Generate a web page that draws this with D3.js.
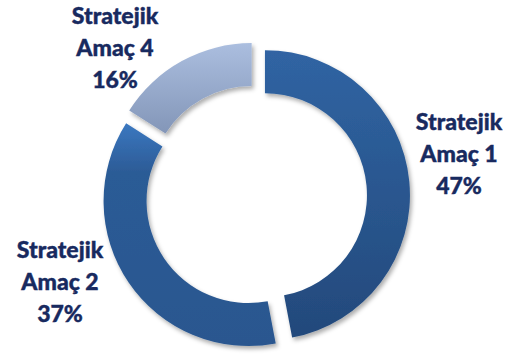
<!DOCTYPE html>
<html>
<head>
<meta charset="utf-8">
<script src="https://cdn.jsdelivr.net/npm/d3@7"></script>
<style>
  html, body { margin: 0; padding: 0; background: #fff; }
  svg { display: block; }
</style>
</head>
<body>
<svg id="chart" width="510" height="356"></svg>
<script>
// Share of each strategic goal
const categories = ["Stratejik Amaç 1", "Stratejik Amaç 2", "Stratejik Amaç 4"];
const values = [47, 37, 16];
const percentLabels = ["47%", "37%", "16%"];

// Vertical gradient stops per slice (top -> bottom)
const gradients = [
  [["0%", "#3064a3"], ["100%", "#23497b"]],
  [["0%", "#3b78c0"], ["22%", "#2c5b96"], ["100%", "#2a578f"]],
  [["0%", "#abbedf"], ["100%", "#8396b8"]]
];

// Label anchor (x, y of first line) per slice
const labelAnchors = [[459, 130], [60, 258], [115, 24]];

const width = 510, height = 356;
const cx = 256, cy = 196;
const outerR = 145, innerR = 102, explode = 9;

const svg = d3.select("#chart");
const defs = svg.append("defs");

const shadow = defs.append("filter")
  .attr("id", "shadow")
  .attr("x", "-20%").attr("y", "-20%")
  .attr("width", "140%").attr("height", "140%");
shadow.append("feDropShadow")
  .attr("dx", 2).attr("dy", 3)
  .attr("stdDeviation", 2.2)
  .attr("flood-color", "#000")
  .attr("flood-opacity", 0.32);

gradients.forEach((stops, i) => {
  const g = defs.append("linearGradient")
    .attr("id", "grad" + i)
    .attr("x1", 0).attr("y1", 0).attr("x2", 0).attr("y2", 1);
  stops.forEach(([o, c]) => g.append("stop").attr("offset", o).attr("stop-color", c));
});

const pie = d3.pie().sort(null).value(d => d)(values);
const arc = d3.arc().innerRadius(innerR).outerRadius(outerR);

const g = svg.append("g").attr("transform", `translate(${cx},${cy})`);

g.selectAll("path.slice")
  .data(pie)
  .join("path")
  .attr("class", "slice")
  .attr("transform", d => {
    const a = (d.startAngle + d.endAngle) / 2;
    return `translate(${Math.sin(a) * explode},${-Math.cos(a) * explode})`;
  })
  .attr("d", arc)
  .attr("fill", (d, i) => `url(#grad${i})`)
  .attr("filter", "url(#shadow)");

// Labels: category split over two lines, then the percentage
const labels = svg.selectAll("text.lbl")
  .data(pie)
  .join("text")
  .attr("class", "lbl")
  .attr("text-anchor", "middle")
  .attr("font-family", "Lato, 'Open Sans', sans-serif")
  .attr("font-weight", 900)
  .attr("font-size", 23)
  .attr("fill", "#182a5f")
  .attr("stroke", "#182a5f")
  .attr("stroke-width", 0.4);

labels.each(function(d, i) {
  const [x, y] = labelAnchors[i];
  const words = categories[i].split(" ");
  const lines = [words[0], words.slice(1).join(" "), percentLabels[i]];
  d3.select(this).selectAll("tspan")
    .data(lines)
    .join("tspan")
    .attr("x", x)
    .attr("y", (t, k) => y + k * 32)
    .text(t => t);
});
</script>
</body>
</html>
